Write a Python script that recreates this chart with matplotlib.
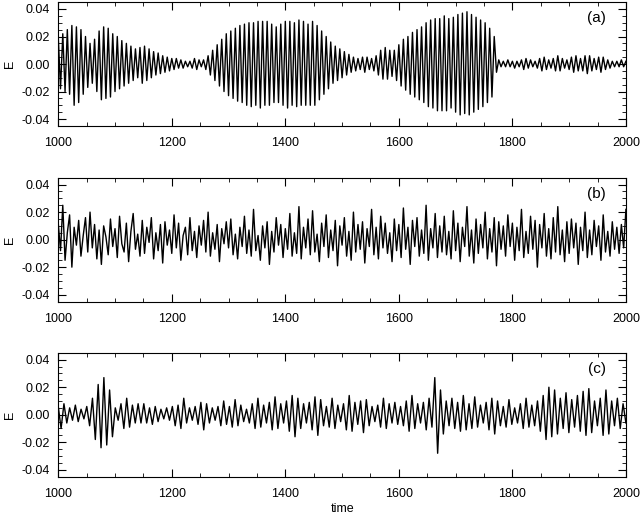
import numpy as np
import matplotlib
matplotlib.use("Agg")
import matplotlib.pyplot as plt

plt.rcParams['font.family'] = ['Liberation Sans', 'DejaVu Sans']
plt.rcParams['font.size'] = 9

# values in units of 1e-3
a_vals = [20,-18,22,-20,25,-22,
 28,-30,27,-28,25,-22,20,
 -17,15,-14,18,-20,
 24,-26,27,-25,26,-24,22,-20,
 20,-18,17,-16,15,-14,13,-12,11,-10,
 12,-14,13,-12,11,-10,9,-8,8,-7,6,-6,5,-5,4,
 -4,4,-3,3,-3,2,-2,2,-3,4,-4,3,-2,3,-4,
 6,-8,10,-12,14,-16,18,-20,22,-23,
 24,-25,26,-27,28,-28,29,-30,30,-31,30,-30,
 31,-32,31,-30,31,-30,29,-28,27,-28,29,-30,31,
 -32,31,-30,30,-31,32,-30,31,-30,29,-30,31,-30,28,-26,
 24,-22,20,-18,16,-14,13,-12,11,-10,
 9,-8,7,-6,5,-5,4,-4,5,-6,5,-4,4,-5,6,
 -8,10,-11,12,-11,10,-9,10,-12,14,
 -16,18,-19,20,-22,23,-24,25,-26,27,-28,30,-31,32,-32,
 33,-34,33,-34,35,-34,33,-32,34,-35,36,-37,37,-36,38,
 -37,36,-35,34,-33,32,-31,30,-28,26,-24,20,
 -6,3,-2,2,-2,3,-2,2,
 -3,2,-2,3,-4,4,-3,3,-2,2,-3,4,-5,5,-4,3,-3,4,-5,6,-5,4,-3,3,-4,
 5,-6,6,-5,4,-5,6,-7,6,-5,4,-4,5,-6,5,-4,3,-3,2,-2,2,-2,3,-2,2]

b_vals = [
 12,-8,25,-15,5,18,-20,9,-4,14,-12,3,16,-9,20,-6,11,-14,7,-18,10,2,-11,15,-5,
 8,-13,17,-3,-9,12,-16,6,19,-7,4,-12,14,-10,9,-2,16,-14,5,-8,11,-17,13,-4,7,
 -10,18,-6,12,-15,3,9,-11,16,-8,6,-13,10,-4,14,-9,20,-12,5,-7,11,-16,8,-3,13,
 -6,15,-11,4,-14,9,-5,17,-10,7,-12,22,-8,3,-15,10,-6,13,-18,6,-9,16,-4,11,-13,
 8,-7,19,-12,5,-10,24,-14,9,-6,15,-11,21,-9,4,-16,12,-5,18,-13,7,-8,14,-19,10,
 -4,16,-12,6,-15,20,-9,11,-7,13,-17,8,-5,22,-11,9,-14,17,-6,12,-10,5,-16,15,-8,
 11,-13,23,-7,9,-18,14,-5,16,-12,7,-10,25,-15,8,-6,19,-13,10,-9,17,-11,6,-14,21,
 -8,12,-16,9,-5,24,-12,7,-17,15,-10,11,-6,20,-14,8,-9,16,-19,13,-7,10,-12,18,-5,
 12,-15,9,-8,22,-13,6,-10,17,-7,14,-20,11,-6,19,-12,8,-14,16,-9,24,-11,7,-16,13,
 -10,15,-6,12,-18,9,-8,20,-13,7,-11,14,-5,10,-15,18,-9,6,-12,13,-7,9,-10,11,-6,22]

c_vals = [
 6,-10,8,-6,5,-4,7,-5,4,-3,
 6,-8,12,-18,22,-24,27,-22,18,-16,
 5,-4,8,-10,12,-9,7,-6,8,-6,
 8,-6,5,-7,6,-5,4,-3,5,-4,
 6,-8,7,-10,12,-6,5,-4,6,-7,
 9,-11,8,-6,5,-4,6,-8,10,-7,
 6,-9,11,-8,7,-5,4,-6,8,-10,
 12,-9,7,-6,9,-11,13,-10,8,-6,
 10,-12,14,-16,12,-10,8,-6,9,-11,
 13,-15,11,-8,6,-9,12,-10,7,-5,
 8,-11,14,-12,9,-7,10,-13,11,-8,
 6,-5,7,-9,12,-10,8,-6,9,-7,
 6,-8,10,-12,14,-10,8,-6,9,-11,
 12,-9,27,-28,18,-14,10,-8,12,-10,
 9,-12,14,-11,8,-10,13,-9,7,-6,
 9,-11,12,-14,10,-8,6,-9,11,-7,
 5,-6,8,-10,12,-9,7,-8,10,-12,
 14,-18,20,-16,18,-14,12,-10,16,-13,
 11,-9,14,-12,17,-15,19,-13,10,-8,
 12,-15,18,-14,10,-8,12,-10,8,-6]

labels = ['(a)', '(b)', '(c)']
series = [a_vals, b_vals, c_vals]
xticks = [1000, 1200, 1400, 1600, 1800, 2000]
yticks = [-0.04, -0.02, 0.00, 0.02, 0.04]

fig = plt.figure(figsize=(6.4, 5.29), dpi=100)
bottoms = [0.762, 0.43, 0.099]
for vals, lab, b in zip(series, labels, bottoms):
    ax = fig.add_axes([0.091, b, 0.887, 0.234])
    y = np.array(vals) / 1000.0
    t = np.linspace(1000, 2000, len(y))
    ax.plot(t, y, color='black', lw=1.0)
    ax.set_xlim(1000, 2000)
    ax.set_ylim(-0.045, 0.045)
    ax.set_xticks(xticks)
    ax.set_yticks(yticks)
    ax.set_yticklabels([f'{v:.2f}' for v in yticks])
    ax.xaxis.set_minor_locator(matplotlib.ticker.MultipleLocator(50))
    ax.yaxis.set_minor_locator(matplotlib.ticker.MultipleLocator(0.005))
    ax.tick_params(direction='in', top=True, right=True, which='both')
    ax.tick_params(which='major', length=6, labelsize=9)
    ax.tick_params(which='minor', length=3)
    ax.tick_params(axis='x', pad=8)
    ax.tick_params(axis='y', pad=6)
    ax.set_ylabel('E', labelpad=4)
    ax.text(0.965, 0.87, lab, transform=ax.transAxes, ha='right', va='center', fontsize=11)
    if lab == '(c)':
        ax.set_xlabel('time', labelpad=2)

fig.savefig('out.png', dpi=100)
